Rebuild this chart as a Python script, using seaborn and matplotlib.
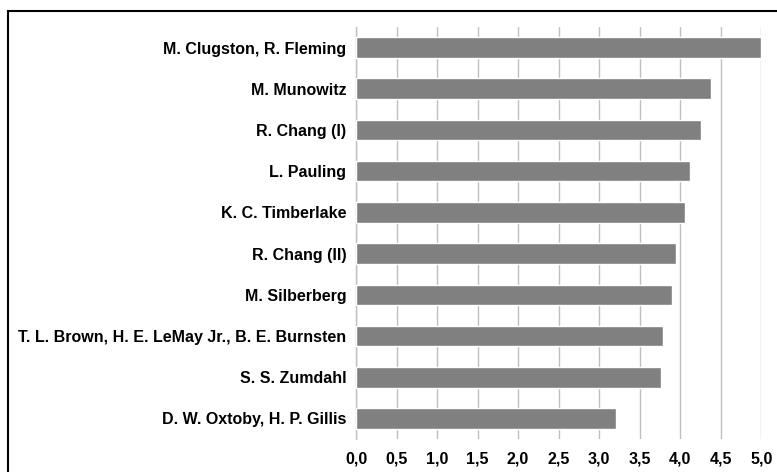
import pandas as pd
import seaborn as sns
import matplotlib.pyplot as plt
from matplotlib.patches import Rectangle
from matplotlib.ticker import FuncFormatter

autores = [
    "M. Clugston, R. Fleming",
    "M. Munowitz",
    "R. Chang (I)",
    "L. Pauling",
    "K. C. Timberlake",
    "R. Chang (II)",
    "M. Silberberg",
    "T. L. Brown, H. E. LeMay Jr., B. E. Burnsten",
    "S. S. Zumdahl",
    "D. W. Oxtoby, H. P. Gillis",
]
notas = [5.0, 4.38, 4.25, 4.12, 4.06, 3.95, 3.90, 3.79, 3.76, 3.21]
ticks = [0.0, 0.5, 1.0, 1.5, 2.0, 2.5, 3.0, 3.5, 4.0, 4.5, 5.0]

df = pd.DataFrame({"autor": autores, "nota": notas})

sns.set_style("white")
plt.rcParams['font.family'] = ['Liberation Sans', 'DejaVu Sans']

fig = plt.figure(figsize=(7.77, 4.72), dpi=100)
ax = fig.add_axes([356 / 777, 1 - 439 / 472, (761.3 - 356) / 777, (439 - 27) / 472])

sns.barplot(data=df, x="nota", y="autor", color="#808080", width=0.5,
            saturation=1, ax=ax, zorder=3)

ax.set_xlim(0, 5.0)
ax.set_ylim(9.5, -0.5)
ax.set_xticks(ticks)
ax.xaxis.set_major_formatter(FuncFormatter(lambda v, p: f"{v:.1f}".replace(".", ",")))
ax.grid(axis="x", color="#BFBFBF", linewidth=1, zorder=0)
ax.set_xlabel("")
ax.set_ylabel("")
ax.tick_params(axis="both", length=0, labelsize=11.5, pad=7, labelcolor="black")
ax.tick_params(axis="x", pad=9)
for lbl in ax.get_xticklabels() + ax.get_yticklabels():
    lbl.set_fontweight("bold")
for s in ["top", "right", "bottom"]:
    ax.spines[s].set_visible(False)
ax.spines["left"].set_color("#BFBFBF")
ax.spines["left"].set_linewidth(1)

fig.patches.append(Rectangle((8 / 777, -0.05), 1.1, 1 - 11 / 472 + 0.05,
                             transform=fig.transFigure, fill=False,
                             edgecolor="black", linewidth=1.5))

fig.savefig("out.png", dpi=100)
